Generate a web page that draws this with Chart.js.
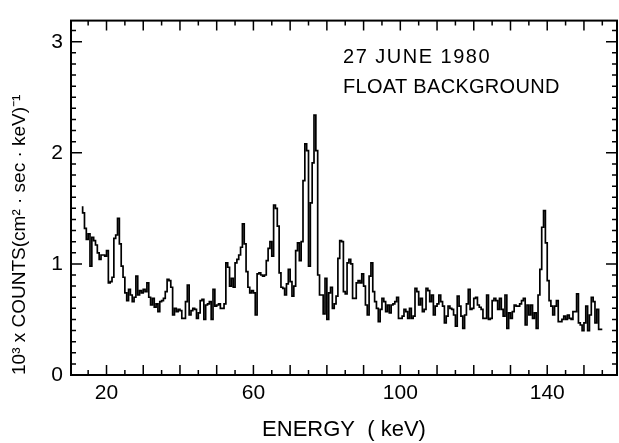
<!DOCTYPE html>
<html>
<head>
<meta charset="utf-8">
<script src="https://cdn.jsdelivr.net/npm/chart.js@4.4.1/dist/chart.umd.min.js"></script>
<style>
  html, body { margin: 0; padding: 0; background: #fff; }
  #wrap { width: 619px; height: 443px; position: relative; }
</style>
</head>
<body>
<div id="wrap"><canvas id="spectrum"></canvas></div>
<script>
// Float background spectrum, 27 June 1980 - 0.5 keV bins from 13.5 keV
const binStart = 13.5;
const binWidth = 0.5;
const counts = [
    1.52, 1.46, 1.32, 1.22, 1.27, 0.98, 1.24, 1.21, 1.17, 1.10,   // 13.5
    1.04, 1.08, 1.08, 1.07, 1.12, 0.83, 0.84, 0.88, 1.23, 1.26,   // 18.5
    1.41, 1.18, 0.98, 0.88, 0.74, 0.67, 0.77, 0.72, 0.66, 0.70,   // 23.5
    0.89, 0.72, 0.76, 0.74, 0.77, 0.75, 0.83, 0.70, 0.63, 0.69,   // 28.5
    0.61, 0.64, 0.57, 0.66, 0.67, 0.69, 0.75, 0.86, 0.85, 0.79,   // 33.5
    0.54, 0.60, 0.57, 0.59, 0.58, 0.51, 0.51, 0.66, 0.81, 0.54,   // 38.5
    0.58, 0.60, 0.59, 0.51, 0.56, 0.67, 0.68, 0.50, 0.63, 0.64,   // 43.5
    0.66, 0.50, 0.77, 0.62, 0.63, 0.64, 0.60, 0.60, 0.64, 1.01,   // 48.5
    0.97, 0.80, 0.87, 0.79, 1.01, 1.04, 1.08, 1.15, 1.36, 1.18,   // 53.5
    0.93, 0.79, 0.74, 0.76, 0.74, 0.54, 0.91, 0.92, 0.90, 0.89,   // 58.5
    0.90, 1.03, 1.14, 1.20, 1.07, 1.53, 1.50, 1.34, 0.92, 0.79,   // 63.5
    0.78, 0.72, 0.82, 0.95, 0.84, 0.71, 0.80, 1.12, 1.19, 1.03,   // 68.5
    1.20, 1.75, 2.08, 2.02, 0.98, 1.55, 1.91, 2.34, 2.02, 0.90,   // 73.5
    0.72, 0.72, 0.55, 0.87, 0.50, 0.74, 0.79, 0.60, 0.64, 0.71,   // 78.5
    1.05, 1.21, 1.20, 0.75, 0.73, 1.01, 1.04, 1.00, 0.69, 0.69,   // 83.5
    0.83, 0.85, 0.83, 0.91, 0.80, 0.63, 0.54, 0.89, 1.01, 0.75,   // 88.5
    0.66, 0.60, 0.48, 0.59, 0.69, 0.66, 0.57, 0.63, 0.56, 0.63,   // 93.5
    0.64, 0.66, 0.70, 0.51, 0.51, 0.53, 0.59, 0.57, 0.51, 0.60,   // 98.5
    0.51, 0.53, 0.78, 0.75, 0.63, 0.69, 0.57, 0.59, 0.78, 0.76,   // 103.5
    0.66, 0.72, 0.54, 0.62, 0.64, 0.72, 0.66, 0.62, 0.47, 0.53,   // 108.5
    0.62, 0.60, 0.59, 0.54, 0.44, 0.71, 0.62, 0.53, 0.42, 0.54,   // 113.5
    0.64, 0.77, 0.59, 0.60, 0.69, 0.70, 0.63, 0.61, 0.59, 0.51,   // 118.5
    0.51, 0.72, 0.50, 0.51, 0.67, 0.69, 0.67, 0.59, 0.69, 0.59,   // 123.5
    0.53, 0.72, 0.42, 0.56, 0.51, 0.57, 0.63, 0.62, 0.62, 0.64,   // 128.5
    0.67, 0.69, 0.45, 0.63, 0.54, 0.63, 0.51, 0.56, 0.42, 0.72,   // 133.5
    0.95, 1.33, 1.48, 1.19, 0.85, 0.67, 0.62, 0.54, 0.62, 0.67,   // 138.5
    0.48, 0.48, 0.50, 0.53, 0.50, 0.54, 0.51, 0.50, 0.57, 0.57,   // 143.5
    0.73, 0.47, 0.45, 0.40, 0.47, 0.62, 0.40, 0.54, 0.70, 0.66,   // 148.5
    0.47, 0.59, 0.41                                              // 153.5
];
const xTickLabels = [20, 60, 100, 140];
const yTickLabels = [0, 1, 2, 3];
const noteLines = ['27 JUNE 1980', 'FLOAT BACKGROUND'];
const xTitle = 'ENERGY  ( keV)';
const yTitle = '10³ x COUNTS(cm² · sec · keV)⁻¹';

const FONT = '"Liberation Sans", Arial, sans-serif';

// histogram steps: each bin holds its value until the next edge
function buildSteps() {
    const pts = counts.map((c, i) => ({ x: binStart + i * binWidth, y: c }));
    pts.push({ x: binStart + counts.length * binWidth, y: counts[counts.length - 1] });
    return pts;
}

// frame on all four sides with ticks pointing into the plot
const frameTicks = {
    id: 'frameTicks',
    afterDatasetsDraw(chart) {
        const { ctx, chartArea: a, scales: { x, y } } = chart;
        ctx.save();
        ctx.strokeStyle = '#000';
        ctx.lineWidth = 2;
        ctx.strokeRect(a.left, a.top, a.right - a.left, a.bottom - a.top);
        ctx.lineWidth = 1.5;
        ctx.beginPath();
        for (let v = 15; v < x.max; v += 5) {
            const px = x.getPixelForValue(v);
            const len = v % 10 === 0 ? 10 : 5;
            ctx.moveTo(px, a.bottom); ctx.lineTo(px, a.bottom - len);
            ctx.moveTo(px, a.top); ctx.lineTo(px, a.top + len);
        }
        for (let i = 1; i / 10 < y.max; i++) {
            const py = y.getPixelForValue(i / 10);
            const len = i % 10 === 0 ? 11 : 5;
            ctx.moveTo(a.left, py); ctx.lineTo(a.left + len, py);
            ctx.moveTo(a.right, py); ctx.lineTo(a.right - len, py);
        }
        ctx.stroke();
        ctx.restore();
    }
};

// date / condition note in the upper right of the plot
const notes = {
    id: 'notes',
    afterDraw(chart) {
        const { ctx, scales: { x, y } } = chart;
        ctx.save();
        ctx.fillStyle = '#000';
        ctx.font = '20px ' + FONT;
        ctx.textBaseline = 'alphabetic';
        const left = x.getPixelForValue(84.4);
        ctx.letterSpacing = '1.5px';
        ctx.fillText(noteLines[0], left, y.getPixelForValue(2.81));
        ctx.letterSpacing = '0.3px';
        ctx.fillText(noteLines[1], left, y.getPixelForValue(2.54));
        ctx.restore();
    }
};

const ctx = document.getElementById('spectrum');
new Chart(ctx, {
    type: 'line',
    data: {
        datasets: [{
            data: buildSteps(),
            borderColor: '#000',
            borderWidth: 1.7,
            stepped: 'after',
            pointRadius: 0,
            fill: false
        }]
    },
    options: {
        responsive: true,
        maintainAspectRatio: false,
        animation: false,
        layout: { padding: { top: 11, right: 2, left: 0, bottom: 0 } },
        plugins: {
            legend: { display: false },
            tooltip: { enabled: false }
        },
        scales: {
            x: {
                type: 'linear',
                min: 10.33,
                max: 159,
                grid: { display: false, drawTicks: false },
                border: { display: false },
                afterBuildTicks: axis => { axis.ticks = xTickLabels.map(v => ({ value: v })); },
                afterFit: scale => { scale.height = 68; },
                ticks: {
                    autoSkip: false,
                    maxRotation: 0,
                    padding: 6,
                    color: '#000',
                    font: { family: FONT, size: 21 },
                    callback: v => String(v)
                },
                title: {
                    display: true,
                    text: xTitle,
                    color: '#000',
                    font: { family: FONT, size: 22 },
                    padding: { top: 0, bottom: 0 }
                }
            },
            y: {
                min: 0,
                max: 3.19,
                grid: { display: false, drawTicks: false },
                border: { display: false },
                afterBuildTicks: axis => { axis.ticks = yTickLabels.map(v => ({ value: v })); },
                afterFit: scale => { scale.width = 71; },
                ticks: {
                    padding: 8,
                    color: '#000',
                    font: { family: FONT, size: 21 },
                    callback: v => String(v)
                },
                title: {
                    display: true,
                    text: yTitle,
                    align: 'start',
                    color: '#000',
                    font: { family: FONT, size: 19 },
                    padding: { top: 8, bottom: 0 }
                }
            }
        }
    },
    plugins: [frameTicks, notes]
});
</script>
</body>
</html>
